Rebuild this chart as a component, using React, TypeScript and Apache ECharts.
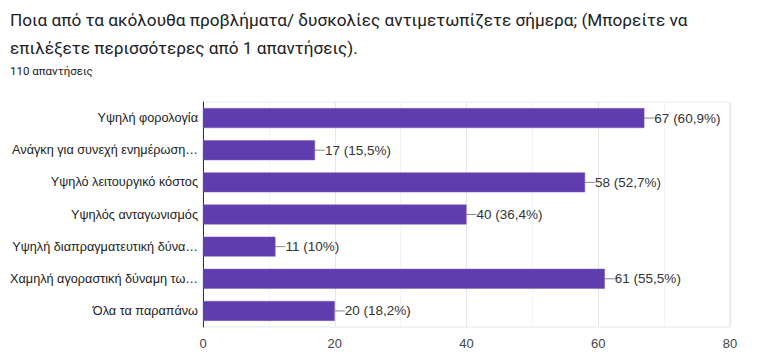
import React, { useEffect, useRef } from "react";
import * as echarts from "echarts";

const categories = [
  "Υψηλή φορολογία",
  "Ανάγκη για συνεχή ενημέρωση…",
  "Υψηλό λειτουργικό κόστος",
  "Υψηλός ανταγωνισμός",
  "Υψηλή διαπραγματευτική δύνα…",
  "Χαμηλή αγοραστική δύναμη τω…",
  "Όλα τα παραπάνω",
];
const counts = [67, 17, 58, 40, 11, 61, 20];
const percents = ["60,9%", "15,5%", "52,7%", "36,4%", "10%", "55,5%", "18,2%"];
const xTicks = [0, 20, 40, 60, 80];

const titleText =
  "Ποια από τα ακόλουθα προβλήματα/ δυσκολίες αντιμετωπίζετε σήμερα; (Μπορείτε να\nεπιλέξετε περισσότερες από 1 απαντήσεις).";
const subtitleText = "110 απαντήσεις";

export default function App() {
  const ref = useRef<HTMLDivElement>(null);
  useEffect(() => {
    if (!ref.current) return;
    const chart = echarts.init(ref.current, null, { renderer: "svg" });
    chart.setOption({
      animation: false,
      title: [
        {
          text: titleText,
          left: 10,
          top: 6,
          padding: 0,
          textStyle: {
            fontFamily: "Roboto",
            fontSize: 17.2,
            fontWeight: "normal",
            color: "#202124",
            lineHeight: 28,
          },
        },
        {
          text: subtitleText,
          left: 10,
          top: 65,
          padding: 0,
          textStyle: {
            fontFamily: "Roboto",
            fontSize: 11.5,
            fontWeight: "normal",
            color: "#202124",
          },
        },
      ],
      grid: {
        left: 203,
        right: 38,
        top: 102,
        bottom: 35,
        show: true,
        borderColor: "#e8e8e8",
        borderWidth: 1,
      },
      xAxis: {
        type: "value",
        min: xTicks[0],
        max: xTicks[xTicks.length - 1],
        interval: 20,
        axisLine: { show: false },
        axisTick: { show: false },
        axisLabel: {
          fontFamily: "Liberation Sans",
          fontSize: 13,
          color: "#444",
          margin: 10,
        },
        splitLine: { show: true, lineStyle: { color: "#e6e6e6" } },
        minorTick: { show: false, splitNumber: 2 },
        minorSplitLine: { show: true, lineStyle: { color: "#f4f4f4" } },
      },
      yAxis: {
        type: "category",
        data: categories,
        inverse: true,
        axisLine: { show: true, lineStyle: { color: "#333", width: 1 } },
        axisTick: { show: false },
        axisLabel: {
          fontFamily: "Liberation Sans",
          fontSize: 12.7,
          color: "#222",
          margin: 5,
        },
      },
      series: [
        {
          type: "bar",
          data: counts,
          barCategoryGap: "38%",
          itemStyle: { color: "#5f3dae", borderColor: "#7a5cc8", borderWidth: 0.5 },
          label: {
            show: true,
            position: "right",
            distance: 0,
            fontFamily: "Liberation Sans",
            fontSize: 13.5,
            color: "#333",
            formatter: (p: any) => `${p.value} (${percents[p.dataIndex]})`,
          },
          labelLayout: { dx: 10 },
          labelLine: { show: true, length2: 0, lineStyle: { color: "#888", width: 1 } },
        },
      ],
    });
    return () => chart.dispose();
  }, []);
  return <div ref={ref} style={{ width: 768, height: 362, margin: -8 }} />;
}
